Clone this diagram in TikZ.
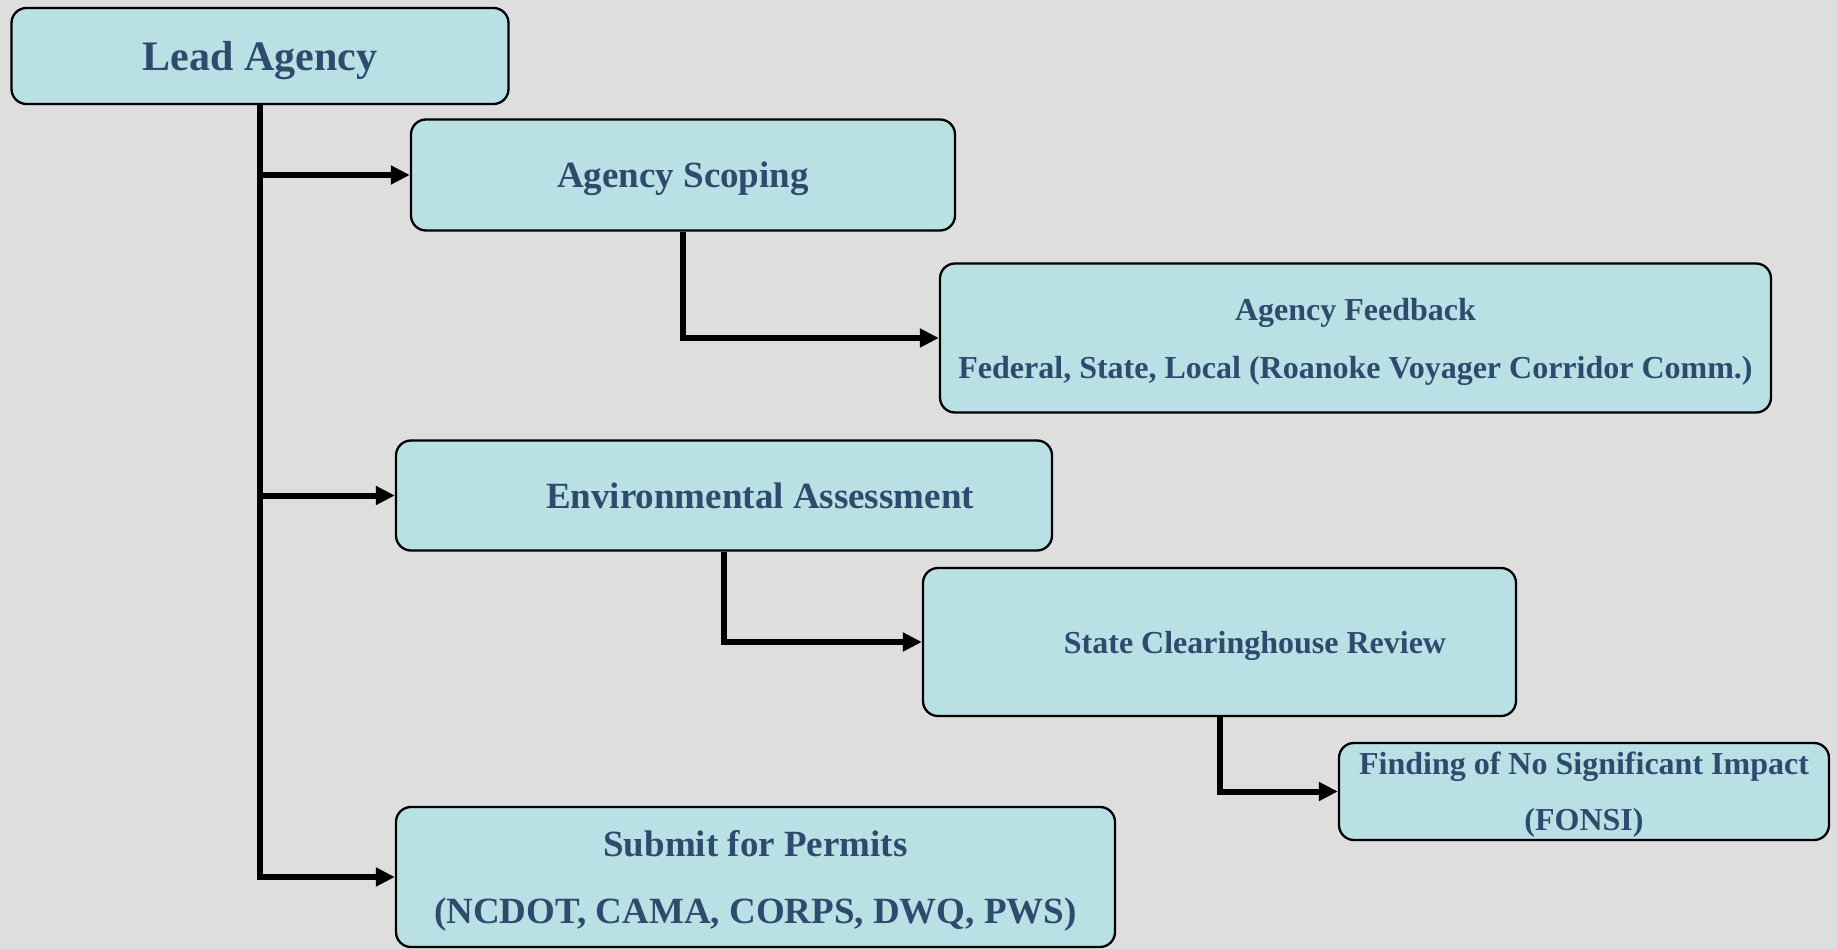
\documentclass[tikz,border=0pt]{standalone}
\usepackage{fontspec}
\setmainfont{Liberation Serif}
\usetikzlibrary{arrows.meta}
\definecolor{bggray}{RGB}{222,222,222}
\definecolor{boxfill}{RGB}{185,224,228}
\definecolor{textblue}{RGB}{44,76,110}

\begin{document}
\begin{tikzpicture}[x=1pt, y=-1pt]
        \tikzstyle{box} = [draw, line width=2.3pt, rounded corners=15pt, fill=boxfill, text=textblue, inner sep=0pt, text depth=0pt, align=center]
        \tikzstyle{edge} = [-{Triangle[length=19pt, width=18pt]}, line width=6pt]
        \fill[bggray] (0,0) rectangle (1837,949);
        \useasboundingbox (0,0) rectangle (1837,949);
        \node[box, minimum width=497pt, minimum height=96pt, font=\bfseries\fontsize{42}{50}\selectfont] (lead) at (260,56) {Lead Agency};
        \node[box, minimum width=544pt, minimum height=111pt, font=\bfseries\fontsize{37}{44}\selectfont] (scoping) at (683,175) {Agency Scoping};
        \node[box, minimum width=831pt, minimum height=149pt, font=\bfseries\fontsize{32}{58}\selectfont] (feedback) at (1355.5,338) {Agency Feedback\\Federal, State, Local (Roanoke Voyager Corridor Comm.)};
        \node[box, minimum width=656pt, minimum height=110pt, font=\bfseries\fontsize{37}{44}\selectfont] (assessment) at (724,495.5) {\hspace*{72pt}Environmental Assessment};
        \node[box, minimum width=593pt, minimum height=148pt, font=\bfseries\fontsize{32}{40}\selectfont] (clearing) at (1219.5,642) {\hspace*{71pt}State Clearinghouse Review};
        \node[box, minimum width=490pt, minimum height=97pt, font=\bfseries\fontsize{32}{56}\selectfont] (fonsi) at (1584,791.5) {Finding of No Significant Impact\\(FONSI)};
        \node[box, minimum width=719pt, minimum height=140pt, font=\bfseries\fontsize{37}{67}\selectfont] (permits) at (755.5,877) {Submit for Permits\\(NCDOT, CAMA, CORPS, DWQ, PWS)};
        \draw[edge] (lead.south) |- (scoping.west);
        \draw[edge] (lead.south) |- (assessment.west);
        \draw[edge] (lead.south) |- (permits.west);
        \draw[edge] (scoping.south) |- (feedback.west);
        \draw[edge] (assessment.south) |- (clearing.west);
        \draw[edge] (clearing.south) |- (fonsi.west);
    \end{tikzpicture}
\end{document}
